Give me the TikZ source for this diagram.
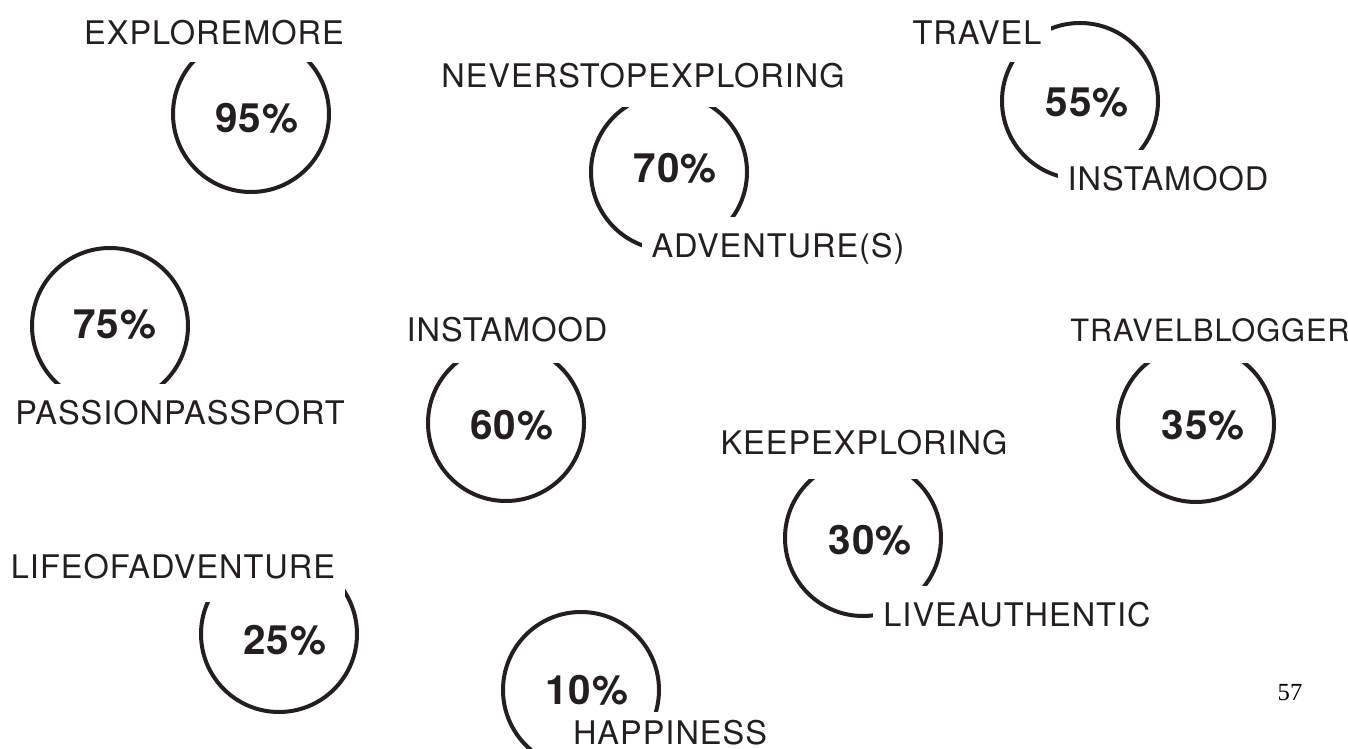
\documentclass[tikz,border=0pt]{standalone}
\usepackage{fontspec}
\setmainfont{TeX Gyre Heros}[LetterSpace=3]
\newfontfamily\pagefont{Liberation Serif}
\definecolor{ink}{RGB}{35,31,32}

\begin{document}
\begin{tikzpicture}[x=0.2mm,y=-0.2mm,
   ring/.style={draw=ink,line width=0.8mm,circle,minimum size=31.2mm,inner sep=0pt},
   pct/.style={font=\fontsize{23}{23}\selectfont\bfseries,text=ink},
   tag/.style={fill=white,font=\fontsize{18.5}{18.5}\selectfont,text=ink,anchor=base,
      inner xsep=2mm,inner ysep=3.5mm,text height=4.6mm,text depth=0pt}]
   \useasboundingbox (0,0) rectangle (1348,749);
   \node[ring] (c95) at (251,114) {};
   \node[ring] (c70) at (669,172) {};
   \node[ring] (c55) at (1080,101) {};
   \node[ring] (c75) at (110,326) {};
   \node[ring] (c60) at (506,423) {};
   \node[ring] (c35) at (1196,424) {};
   \node[ring] (c30) at (863,538) {};
   \node[ring] (c25) at (279,634) {};
   \node[ring] (c10) at (581,690) {};
   \node[pct] (p95) at (257,118) {95\%};
   \node[pct] (p70) at (675,168) {70\%};
   \node[pct] (p55) at (1087,103) {55\%};
   \node[pct] (p75) at (115,325) {75\%};
   \node[pct] (p60) at (512,425) {60\%};
   \node[pct] (p35) at (1203,425) {35\%};
   \node[pct] (p30) at (870,540) {30\%};
   \node[pct] (p25) at (285,640) {25\%};
   \node[pct] (p10) at (587,690) {10\%};
   \node[tag] (exploremore) at (214,45) {EXPLOREMORE};
   \node[tag,text depth=0.3mm] (neverstop) at (643,88) {NEVERSTOPEXPLORING};
   \node[tag] (travel) at (977,45) {TRAVEL};
   \node[tag] (instamoodA) at (1168,191) {INSTAMOOD};
   \node[tag] (adventures) at (778,258) {ADVENTURE(S)};
   \node[tag] (passion) at (180,425) {PASSIONPASSPORT};
   \node[tag,text depth=0.7mm] (instamoodB) at (507,342) {INSTAMOOD};
   \node[tag,text depth=0.7mm,font=\fontsize{17.5}{17.5}\selectfont] (travelblogger) at (1210,342) {TRAVELBLOGGER};
   \node[tag,text depth=1.3mm] (keepexploring) at (864,455) {KEEPEXPLORING};
   \node[tag] (liveauthentic) at (1017,626) {LIVEAUTHENTIC};
   \node[tag,text depth=1.3mm] (lifeofadventure) at (173,578) {LIFEOFADVENTURE};
   \node[tag,text height=3mm] (happiness) at (670,744) {HAPPINESS};
   \node[font=\pagefont\fontsize{14}{14}\selectfont,anchor=base] (page) at (1290,700) {57};
\end{tikzpicture}
\end{document}
